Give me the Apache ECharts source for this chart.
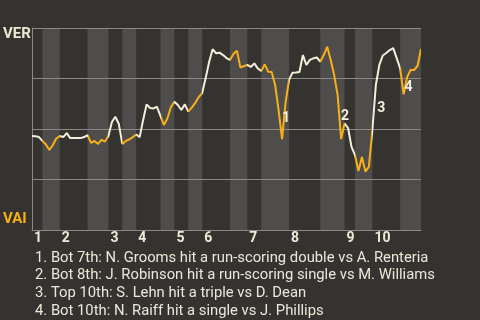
<!DOCTYPE html>
<html>
<head>
<meta charset="UTF-8">
<title>Win probability</title>
<script src="https://cdn.jsdelivr.net/npm/echarts@6/dist/echarts.min.js"></script>
<style>
  html, body { margin: 0; padding: 0; background: #353330; }
  #chart { width: 480px; height: 320px; }
</style>
</head>
<body>
<div id="chart"></div>
<script>
// plate appearances per half inning (top 1st, bot 1st, top 2nd ...)
var halfPAs = [3, 5, 8, 6, 4, 4, 7, 4, 4, 4, 8, 5, 4, 8, 9, 7, 3, 5, 8, 6];
var innings = ['1', '2', '3', '4', '5', '6', '7', '8', '9', '10'];

// VER win probability after each plate appearance
var wp = [
  0.465, 0.464, 0.460, 0.441, 0.423, 0.396, 0.421, 0.453, 0.465, 0.460,
  0.480, 0.455, 0.455, 0.455, 0.455, 0.460, 0.470, 0.431, 0.441, 0.426,
  0.446, 0.438, 0.465, 0.535, 0.561, 0.525, 0.426, 0.441, 0.448, 0.460,
  0.473, 0.460, 0.545, 0.622, 0.604, 0.602, 0.610, 0.564, 0.520, 0.553,
  0.609, 0.635, 0.619, 0.594, 0.622, 0.586, 0.606, 0.629, 0.658, 0.678,
  0.752, 0.832, 0.895, 0.875, 0.878, 0.866, 0.851, 0.842, 0.871, 0.888,
  0.804, 0.812, 0.817, 0.807, 0.825, 0.800, 0.787, 0.820, 0.784, 0.782,
  0.718, 0.594, 0.450, 0.629, 0.743, 0.779, 0.780, 0.782, 0.866, 0.817,
  0.842, 0.850, 0.854, 0.833, 0.866, 0.907, 0.842, 0.767, 0.668, 0.450,
  0.528, 0.505, 0.411, 0.371, 0.292, 0.361, 0.289, 0.313, 0.495, 0.718,
  0.817, 0.864, 0.876, 0.891, 0.900, 0.851, 0.800, 0.672, 0.757, 0.792,
  0.792, 0.812, 0.896
];

// key plays: index into wp and label
var noteIdx = [72, 89, 98, 107];
var noteLabels = ['1', '2', '3', '4'];
var noteTexts = [
  '1. Bot 7th: N. Grooms hit a run-scoring double vs A. Renteria',
  '2. Bot 8th: J. Robinson hit a run-scoring single vs M. Williams',
  '3. Top 10th: S. Lehn hit a triple vs D. Dean',
  '4. Bot 10th: N. Raiff hit a single vs J. Phillips'
];
var noteOffsets = [[4, -21], [4, -23], [9, -22], [5, -7]];

var WHITE = '#f3eedc';
var ORANGE = '#f8b016';
var GRAY = '#8a8986';

// half inning boundaries
var bounds = [0];
halfPAs.forEach(function (n) { bounds.push(bounds[bounds.length - 1] + n); });
var total = bounds[bounds.length - 1];
var topStarts = [];
for (var k = 0; k < halfPAs.length; k += 2) topStarts.push(bounds[k]);

var pieces = [];
var stripes = [];
for (var k = 0; k < halfPAs.length; k++) {
  var p = { gte: bounds[k], color: k % 2 ? ORANGE : WHITE };
  if (k < halfPAs.length - 1) p.lt = bounds[k + 1]; else p.lte = bounds[k + 1];
  pieces.push(p);
  if (k % 2) stripes.push([{ xAxis: bounds[k] }, { xAxis: bounds[k + 1] }]);
}

var lineData = wp.map(function (v, i) { return [i, v]; });

var chart = echarts.init(document.getElementById('chart'));
var option = {
  backgroundColor: '#353330',
  animation: false,
  grid: { left: 32, right: 59, top: 28, bottom: 90 },
  title: {
    text: noteTexts.join('\n'),
    left: 30,
    top: 244,
    textStyle: { color: '#ece7d9', fontFamily: 'Roboto', fontSize: 14.8, fontWeight: 'normal', lineHeight: 17.8 }
  },
  graphic: [
    { type: 'text', left: 3, top: 27, style: { text: 'VER', fill: '#ede7d3', font: 'bold 15px Roboto' } },
    { type: 'text', left: 3, top: 212, style: { text: 'VAI', fill: ORANGE, font: 'bold 15px Roboto' } }
  ],
  visualMap: {
    type: 'piecewise',
    show: false,
    dimension: 0,
    seriesIndex: 1,
    pieces: pieces
  },
  xAxis: {
    type: 'value',
    min: 0,
    max: total,
    z: 3,
    axisLine: { show: true, lineStyle: { color: GRAY, width: 1 } },
    axisTick: { show: false },
    splitLine: { show: false },
    axisLabel: {
      customValues: topStarts,
      formatter: function (v) { return innings[topStarts.indexOf(v)]; },
      align: 'left',
      margin: 1,
      padding: [0, 0, 0, 2],
      color: '#f0ead8',
      fontFamily: 'Roboto',
      fontWeight: 'bold',
      fontSize: 14
    }
  },
  yAxis: {
    type: 'value',
    min: 0,
    max: 1,
    interval: 0.25,
    z: 1,
    axisLine: { show: true, lineStyle: { color: GRAY, width: 1 } },
    axisTick: { show: false },
    axisLabel: { show: false },
    splitLine: { show: true, lineStyle: { color: GRAY, width: 1 } }
  },
  series: [
    {
      type: 'line',
      z: -1,
      silent: true,
      data: lineData,
      symbol: 'none',
      lineStyle: { opacity: 0 },
      markArea: {
        silent: true,
        z: -1,
        itemStyle: { color: '#4e4d4b' },
        data: stripes
      }
    },
    {
      type: 'line',
      z: 5,
      data: lineData,
      symbol: 'none',
      lineStyle: { width: 2 },
      markPoint: {
        z: 6,
        symbol: 'circle',
        symbolSize: 1,
        itemStyle: { color: 'rgba(0,0,0,0)' },
        label: {
          show: true,
          position: 'inside',
          color: '#f3eee0',
          fontFamily: 'Roboto',
          fontWeight: 'bold',
          fontSize: 14,
          formatter: function (p) { return p.name; }
        },
        data: noteIdx.map(function (idx, i) {
          return {
            name: noteLabels[i],
            coord: [idx, wp[idx]],
            label: { offset: noteOffsets[i] }
          };
        })
      }
    }
  ]
};
chart.setOption(option);
</script>
</body>
</html>
